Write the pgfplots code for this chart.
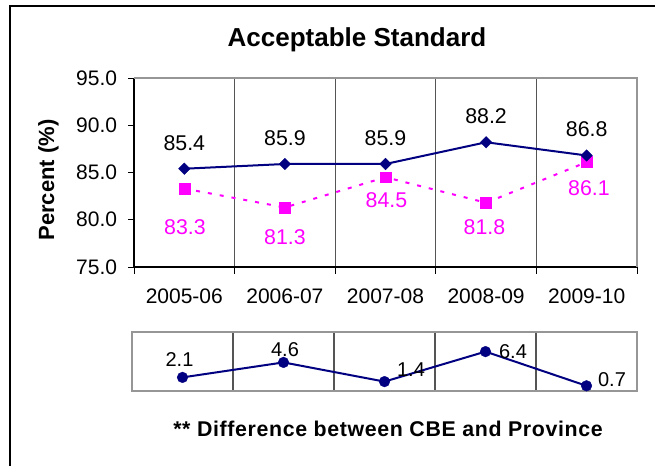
\documentclass[border=0pt]{standalone}
\usepackage{pgfplots}
\pgfplotsset{compat=1.18}
\usepackage{pgfplotstable}
\usepackage{fontspec}
\setmainfont{Liberation Sans}
\definecolor{cnavy}{RGB}{0,0,128}
\definecolor{cmag}{RGB}{255,0,255}
\definecolor{gridc}{RGB}{85,85,85}
\definecolor{borderc}{RGB}{150,150,150}
\pgfplotsset{/pgf/number format/assume math mode=true}

\pgfplotstableread{
x y
0 85.4
1 85.9
2 85.9
3 88.2
4 86.8
}\cbe
\pgfplotstableread{
x y dx dy
0 83.3 0.7 -39
1 81.3 0 -30
2 84.5 1 -23
3 81.8 -1.6 -24
4 86.1 2.3 -26.5
}\prov
\pgfplotstableread{
x y dx dy
0 2.1 -3 18
1 4.6 1.5 13
2 1.4 26.5 11.6
3 6.4 27.5 0
4 0.7 25.5 6
}\diff

\begin{document}
\begin{tikzpicture}
\useasboundingbox (0,0) rectangle (491.25pt,348.75pt);
\draw[black, line width=2.2pt] (7.5pt,-5pt) -- (7.5pt,344.25pt) -- (500pt,344.25pt);
\node[font=\fontsize{19.5}{22}\selectfont\bfseries] at (267.75pt,318.75pt) {Acceptable Standard};
\node[font=\fontsize{16.5}{19}\selectfont\bfseries, rotate=90] at (36.4pt,213.75pt) {Percent (\%)};
\node[font=\fontsize{16}{19}\selectfont\bfseries\addfontfeature{LetterSpace=3}] at (291pt,27.4pt) {** Difference between CBE and Province};

\begin{axis}[
  at={(100.5pt,148.5pt)}, anchor=south west,
  scale only axis, width=377.25pt, height=141.75pt,
  xmin=-0.5, xmax=4.5, ymin=75, ymax=95,
  axis x line*=bottom, axis y line*=left,
  axis line style={-, black, line width=1pt},
  ytick={75,80,85,90,95},
  yticklabel style={/pgf/number format/fixed, /pgf/number format/precision=1, /pgf/number format/fixed zerofill,
    anchor=east, inner sep=0pt, xshift=-8pt, font=\fontsize{15.75}{18}\selectfont},
  xtick={0,1,2,3,4},
  xticklabels={2005-06,2006-07,2007-08,2008-09,2009-10},
  xticklabel style={anchor=north, inner sep=0pt, yshift=-12pt, font=\fontsize{15.75}{18}\selectfont},
  major x tick style={draw=none},
  minor xtick={-0.5,0.5,1.5,2.5,3.5,4.5},
  xminorgrids, minor x grid style={gridc, line width=0.8pt},
  tick align=outside,
  major tick length=4.5pt, minor tick length=5pt,
  tick style={black, line width=0.75pt},
  clip=false,
]
\draw[borderc, line width=1.5pt] (rel axis cs:0,1) -- (rel axis cs:1,1) -- (rel axis cs:1,0);
\addplot[cmag, line width=1.5pt, dash pattern=on 3pt off 6pt, mark=square*, mark size=4.1pt,
  mark options={solid, line width=0.3pt},
  nodes near coords,
  visualization depends on={\thisrow{dx} \as \dx},
  visualization depends on={\thisrow{dy} \as \dy},
  nodes near coords style={anchor=center, xshift=\dx*0.75pt, yshift=\dy*0.75pt, text=cmag, font=\fontsize{16}{18}\selectfont}]
  table[x=x,y=y] {\prov};
\addplot[cnavy, line width=1.5pt, mark=square*, mark size=3.05pt,
  mark options={solid, rotate=45, line width=0.3pt},
  nodes near coords,
  nodes near coords style={anchor=center, yshift=19.5pt, text=black, font=\fontsize{16}{18}\selectfont}]
  table[x=x,y=y] {\cbe};
\end{axis}

\begin{axis}[
  at={(99pt,55.5pt)}, anchor=south west,
  scale only axis, width=378.75pt, height=44.25pt,
  xmin=-0.5, xmax=4.5, ymin=-0.167, ymax=9.667,
  xtick={0.5,1.5,2.5,3.5}, xticklabels={}, ytick=\empty,
  xmajorgrids, major x grid style={gridc, line width=0.8pt},
  major tick length=0pt,
  axis line style={borderc, line width=1.5pt},
  clip=false,
]
\addplot[cnavy, line width=1.5pt, mark=*, mark size=4pt,
  mark options={solid, line width=0.3pt},
  nodes near coords,
  visualization depends on={\thisrow{dx} \as \dx},
  visualization depends on={\thisrow{dy} \as \dy},
  nodes near coords style={anchor=center, xshift=\dx*0.75pt, yshift=\dy*0.75pt, text=black, font=\fontsize{15}{17}\selectfont}]
  table[x=x,y=y] {\diff};
\end{axis}
\end{tikzpicture}
\end{document}
